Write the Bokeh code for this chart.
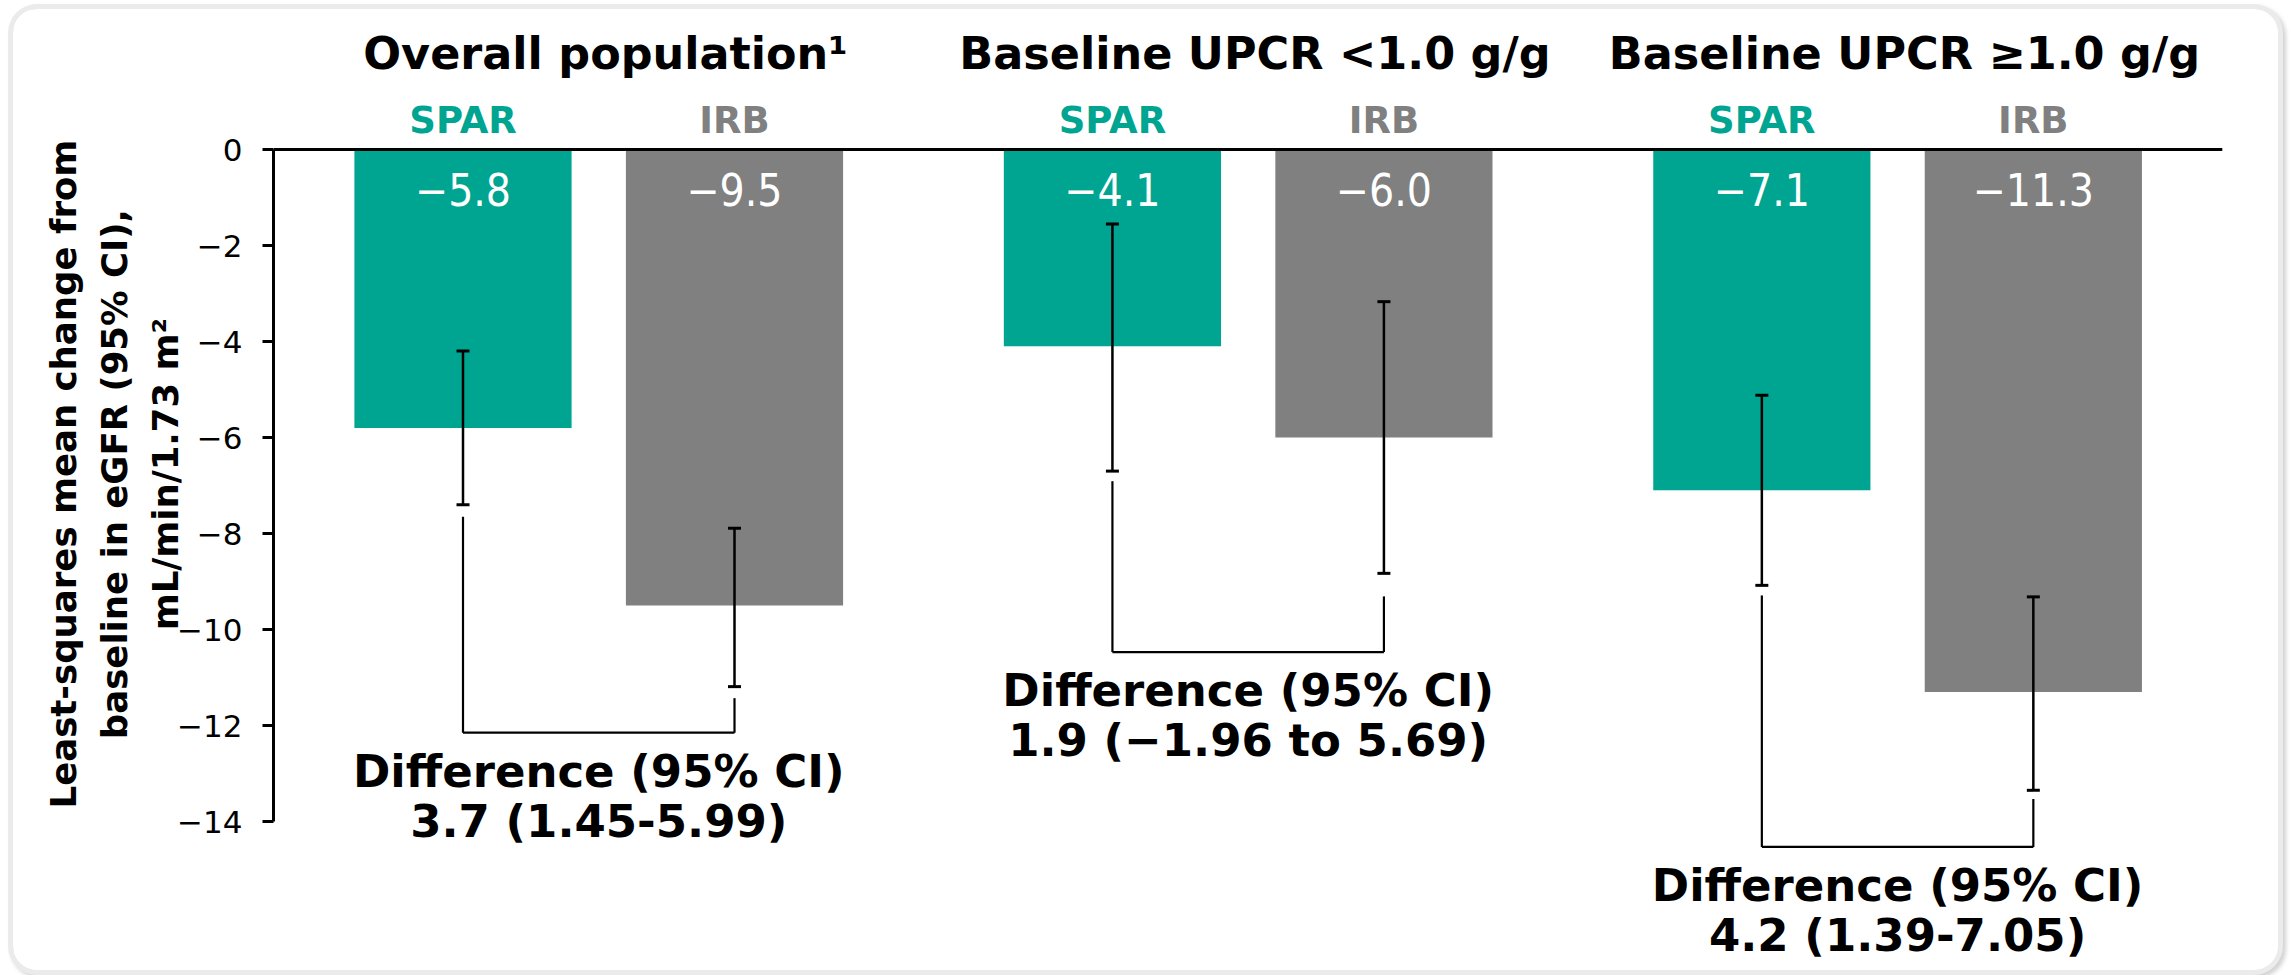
from bokeh.plotting import figure
from bokeh.models import ColumnDataSource, FixedTicker, Whisker, TeeHead, Range1d
from bokeh.core.properties import value
from bokeh.embed import file_html
from bokeh.resources import INLINE

# ---------------- data ----------------
groups = ["Overall population¹", "Baseline UPCR <1.0 g/g", "Baseline UPCR ≥1.0 g/g"]
arms = ["SPAR", "IRB"]
spar_mean = [-5.8, -4.1, -7.1]
irb_mean = [-9.5, -6.0, -11.3]
spar_ci_upper = [-4.2, -1.55, -5.12]
spar_ci_lower = [-7.4, -6.7, -9.08]
irb_ci_upper = [-7.89, -3.17, -9.32]
irb_ci_lower = [-11.19, -8.83, -13.35]
diff_heading = "Difference (95% CI)"
diff_labels = ["3.7 (1.45-5.99)", "1.9 (\u22121.96 to 5.69)", "4.2 (1.39-7.05)"]
bracket_y = [-12.15, -10.47, -14.53]
spar_stub_top = [-7.65, -6.91, -9.29]
irb_stub_top = [-11.43, -9.31, -13.53]
y_ticks = [0, -2, -4, -6, -8, -10, -12, -14]
y_label_lines = ["Least-squares mean change from", "baseline in eGFR (95% CI),",
                 "mL/min/1.73 m\u00b2"]

# ---------------- style / layout ----------------
SPAR_C = "#00A591"
IRB_C = "#808080"
W, H = 2265, 961
GAP = 2.392        # distance between groups (in arm steps)
BAR_W = 0.8
X0, X1 = -0.698, 6.687
Y0, Y1 = -17.104, 2.917
BOLD = value("DejaVu Sans")
COND = value("DejaVu Sans Condensed, DejaVu Sans")
LABEL_LEAD = "\u00a0\u00a0\u2009"   # nudges the centred axis title upwards

ng = len(groups)
spar_x = [g * GAP for g in range(ng)]
irb_x = [g * GAP + 1.0 for g in range(ng)]
grp_x = [(a + b) / 2 for a, b in zip(spar_x, irb_x)]


def fmt(v):
    return f"{v:.1f}".replace("-", "\u2212")


p = figure(width=W, height=H, x_range=Range1d(X0, X1), y_range=Range1d(Y0, Y1),
           output_backend="svg", toolbar_location=None, x_axis_location=None,
           title=None, min_border_left=260, min_border_right=0, min_border_top=0,
           min_border_bottom=0, outline_line_color=None,
           background_fill_color="white", border_fill_color="white",
           styles={"margin-left": "13px", "margin-top": "9px",
                   "border-radius": "24px", "overflow": "hidden",
                   "box-shadow": "0 0 0 5px #ebebeb, 3px 3px 4px 5px rgba(0,0,0,0.18)"})
p.grid.visible = False

# bars
bars = ColumnDataSource(dict(
    x=spar_x + irb_x,
    top=[0] * (2 * ng),
    bottom=spar_mean + irb_mean,
    color=[SPAR_C] * ng + [IRB_C] * ng,
    label=[fmt(v) for v in spar_mean + irb_mean],
    ly=[-0.833] * (2 * ng),
))
p.vbar(x="x", top="top", bottom="bottom", width=BAR_W, fill_color="color",
       line_color=None, source=bars)
p.text(x="x", y="ly", text="label", source=bars, text_color="white",
       text_font=COND, text_font_size="44px", text_align="center",
       text_baseline="middle")

# error bars
err = ColumnDataSource(dict(base=spar_x + irb_x,
                            upper=spar_ci_upper + irb_ci_upper,
                            lower=spar_ci_lower + irb_ci_lower))
whisk = Whisker(base="base", upper="upper", lower="lower", source=err,
                line_width=2.5, line_color="black", level="overlay",
                upper_head=TeeHead(size=13, line_width=3, line_color="black"),
                lower_head=TeeHead(size=13, line_width=3, line_color="black"))
p.add_layout(whisk)

# brackets
p.segment(x0=spar_x, y0=spar_stub_top, x1=spar_x, y1=bracket_y, line_width=2.2, line_color="black")
p.segment(x0=irb_x, y0=irb_stub_top, x1=irb_x, y1=bracket_y, line_width=2.2, line_color="black")
p.segment(x0=spar_x, y0=bracket_y, x1=irb_x, y1=bracket_y, line_width=2.2, line_color="black")

# zero line
p.segment(x0=[X0], y0=[0], x1=[irb_x[-1] + 0.696], y1=[0], line_width=3, line_color="black")

# titles and arm labels
p.text(x=[gx + 0.025 for gx in grp_x], y=[2.01] * ng, text=groups, text_font=BOLD,
       text_font_style="bold", text_font_size="44.5px", text_color="black",
       text_align="center", text_baseline="middle")
p.text(x=spar_x + irb_x, y=[0.604] * (2 * ng), text=[arms[0]] * ng + [arms[1]] * ng,
       text_color=[SPAR_C] * ng + [IRB_C] * ng, text_font=BOLD, text_font_style="bold",
       text_font_size="37px", text_align="center", text_baseline="middle")

# difference annotations
p.text(x=grp_x, y=[b - 0.80 for b in bracket_y], text=[diff_heading] * ng,
       text_font=BOLD, text_font_style="bold", text_font_size="45px",
       text_color="black", text_align="center", text_baseline="middle")
p.text(x=grp_x, y=[b - 1.85 for b in bracket_y], text=diff_labels,
       text_font=BOLD, text_font_style="bold", text_font_size="45px",
       text_color="black", text_align="center", text_baseline="middle")

# y axis
ax = p.yaxis[0]
ax.ticker = FixedTicker(ticks=y_ticks)
ax.bounds = (-14, 0)
ax.major_label_overrides = {t: ("0" if t == 0 else "\u2212" + str(-t)) for t in y_ticks}
ax.major_tick_out = 11
ax.major_tick_in = 0
ax.minor_tick_line_color = None
ax.axis_line_width = 3
ax.major_tick_line_width = 3
ax.axis_line_color = "black"
ax.major_tick_line_color = "black"
ax.major_label_text_font = "DejaVu Sans"
ax.major_label_text_font_size = "31px"
ax.major_label_text_color = "black"
ax.major_label_standoff = 20
ax.axis_label = "\n".join(LABEL_LEAD + s for s in y_label_lines)
ax.axis_label_text_font = "DejaVu Sans"
ax.axis_label_text_font_style = "bold"
ax.axis_label_text_font_size = "35.5px"
ax.axis_label_text_color = "black"
ax.axis_label_text_line_height = 1.25
ax.axis_label_standoff = -12

open("out.html", "w").write(file_html(p, INLINE))
